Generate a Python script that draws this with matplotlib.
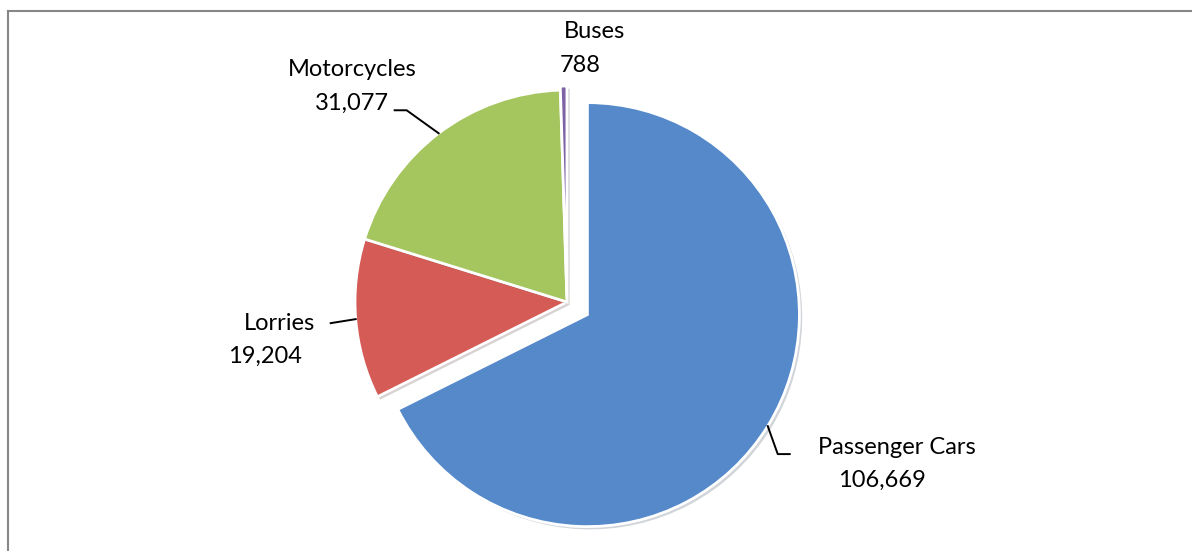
import numpy as np
import matplotlib
matplotlib.use("Agg")
import matplotlib.pyplot as plt
import matplotlib.patheffects as pe

W, H = 1192, 551

categories = ["Passenger Cars", "Lorries", "Motorcycles", "Buses"]
values = [106669, 19204, 31077, 788]
value_labels = ["106,669", "19,204", "31,077", "788"]
colors = ["#5589ca", "#d55b57", "#a5c65f", "#7e62a6"]
# explode distance in pixels (axes are in pixel units)
explode = [24, 0, 0, 4]

plt.rcParams['font.family'] = ['Lato', 'DejaVu Sans']

fig = plt.figure(figsize=(W / 100, H / 100), dpi=100)
ax = fig.add_axes([0, 0, 1, 1])

cx, cy, r = 567, H - 302, 212
wedges, _ = ax.pie(values, colors=colors, startangle=90, counterclock=False,
                   explode=explode, center=(cx, cy), radius=r, frame=True,
                   wedgeprops=dict(edgecolor="white", linewidth=2))
for w in wedges:
    w.set_path_effects([pe.SimplePatchShadow(offset=(2, -2), alpha=0.2), pe.Normal()])
ax.set_xlim(0, W)
ax.set_ylim(0, H)
ax.set_aspect("equal")
ax.axis("off")

# leader lines start at the middle of each wedge's arc
def arc_mid(w):
    t = np.deg2rad((w.theta1 + w.theta2) / 2)
    x0, y0 = w.center
    return x0 + w.r * np.cos(t), y0 + w.r * np.sin(t)

fs = 17
# Passenger Cars
px, py = arc_mid(wedges[0])
ax.plot([px, px + 10, px + 22], [py, py - 28, py - 28], color="black", lw=1.4)
ax.text(897, H - 448, categories[0], ha="center", va="center", fontsize=fs)
ax.text(882, H - 480, value_labels[0], ha="center", va="center", fontsize=fs)
# Lorries
lx, ly = arc_mid(wedges[1])
ax.plot([lx, lx - 25], [ly, ly - 4], color="black", lw=1.4)
ax.text(279, H - 323, categories[1], ha="center", va="center", fontsize=fs)
ax.text(264.5, H - 356, value_labels[1], ha="center", va="center", fontsize=fs)
# Motorcycles
mx, my = arc_mid(wedges[2])
ax.plot([mx, mx - 32, mx - 44], [my, my + 23, my + 23], color="black", lw=1.4)
ax.text(352, H - 70, categories[2], ha="center", va="center", fontsize=fs)
ax.text(351.5, H - 103, value_labels[2], ha="center", va="center", fontsize=fs)
# Buses
ax.text(594.5, H - 32, categories[3], ha="center", va="center", fontsize=fs)
ax.text(580.5, H - 65, value_labels[3], ha="center", va="center", fontsize=fs)

# chart frame (only top and left edges visible)
ax.plot([7.5, W], [H - 10.5, H - 10.5], color="#878787", lw=1.5, clip_on=False)
ax.plot([7.5, 7.5], [0, H - 10.5], color="#878787", lw=1.5, clip_on=False)

fig.savefig("out.png", dpi=100)
